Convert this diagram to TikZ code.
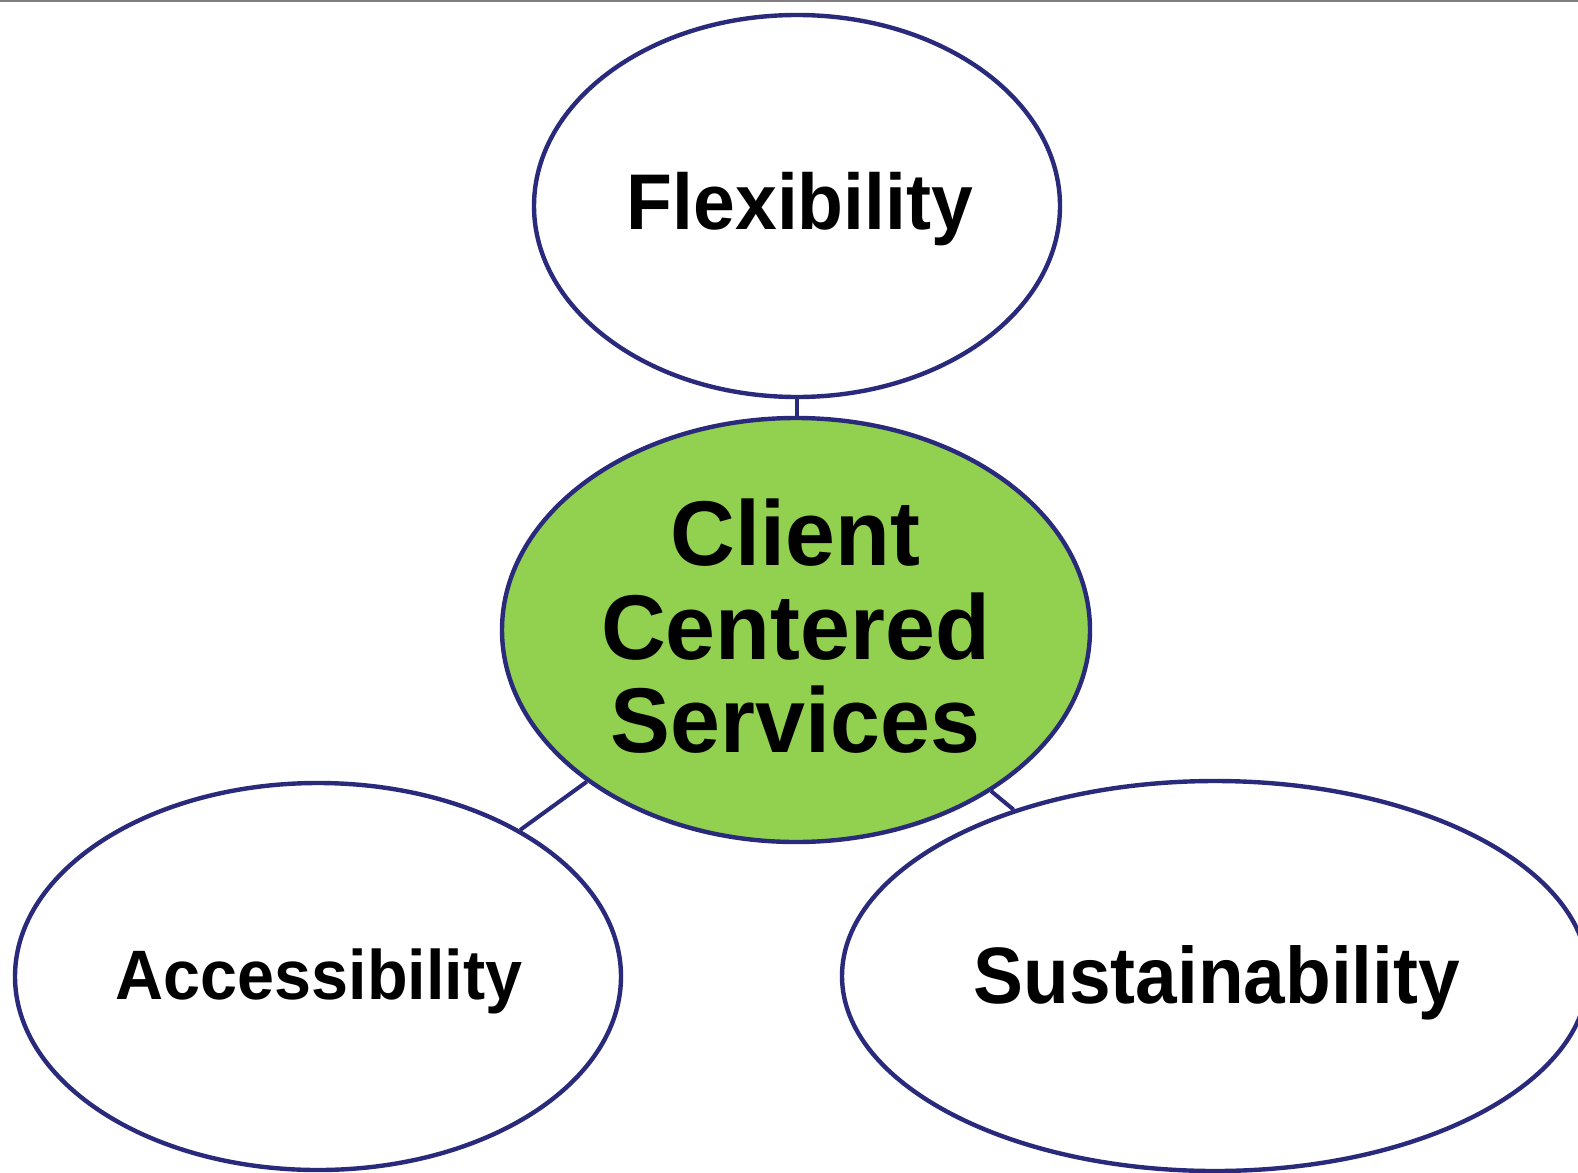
\documentclass[tikz,border=0pt]{standalone}
\usepackage{fontspec}
\setmainfont{Liberation Sans}
\usetikzlibrary{shapes.geometric}
\definecolor{navy}{HTML}{2A2A7C}
\definecolor{leaf}{HTML}{92D050}
\definecolor{topline}{HTML}{808080}
\newcommand{\narrow}[2][0.95]{\scalebox{#1}[1]{#2}}
\begin{document}
\begin{tikzpicture}[x=1pt,y=-1pt,
  bubble/.style={draw=navy, line width=4.4pt, ellipse, inner sep=0pt, fill=white},
  link/.style={draw=navy, line width=4pt},
  lbl/.style={anchor=base, inner sep=0pt, font=\bfseries, text=black}]
\useasboundingbox (0,0) rectangle (1578,1172);
\fill[white] (0,0) rectangle (1578,1172);
\draw[topline, line width=2pt] (0,1) coordinate (tl) -- (1578,1) coordinate (tr);
% ellipses
\node[bubble, minimum width=526pt, minimum height=382pt] (flex) at (797,206) {};
\node[bubble, fill=leaf, minimum width=588pt, minimum height=424pt] (ctr) at (796,630) {};
\node[bubble, minimum width=606pt, minimum height=387pt] (acc) at (318,976.5) {};
\node[bubble, minimum width=746pt, minimum height=390pt] (sust) at (1215,976) {};
% connectors
\draw[link] (flex.south) -- (flex.south |- ctr.north);
\draw[link] (acc) -- (ctr);
\draw[link] (ctr) -- (sust);
% labels
\node[lbl, font=\fontsize{79}{79}\bfseries] (tflex) at (800,229.5) {\narrow{Flexibility}};
\node[lbl, font=\fontsize{92}{92}\bfseries] (tc1) at (795.5,565.6) {\narrow[0.975]{Client}};
\node[lbl, font=\fontsize{92}{92}\bfseries] (tc2) at (795.5,659) {\narrow[0.975]{Centered}};
\node[lbl, font=\fontsize{92}{92}\bfseries] (tc3) at (795.5,752.8) {\narrow[0.975]{Services}};
\node[lbl, font=\fontsize{70}{70}\bfseries] (tacc) at (319,999.4) {\narrow{Accessibility}};
\node[lbl, font=\fontsize{80}{80}\bfseries] (tsust) at (1216.7,1003.4) {\narrow[0.935]{Sustainability}};
\end{tikzpicture}
\end{document}
